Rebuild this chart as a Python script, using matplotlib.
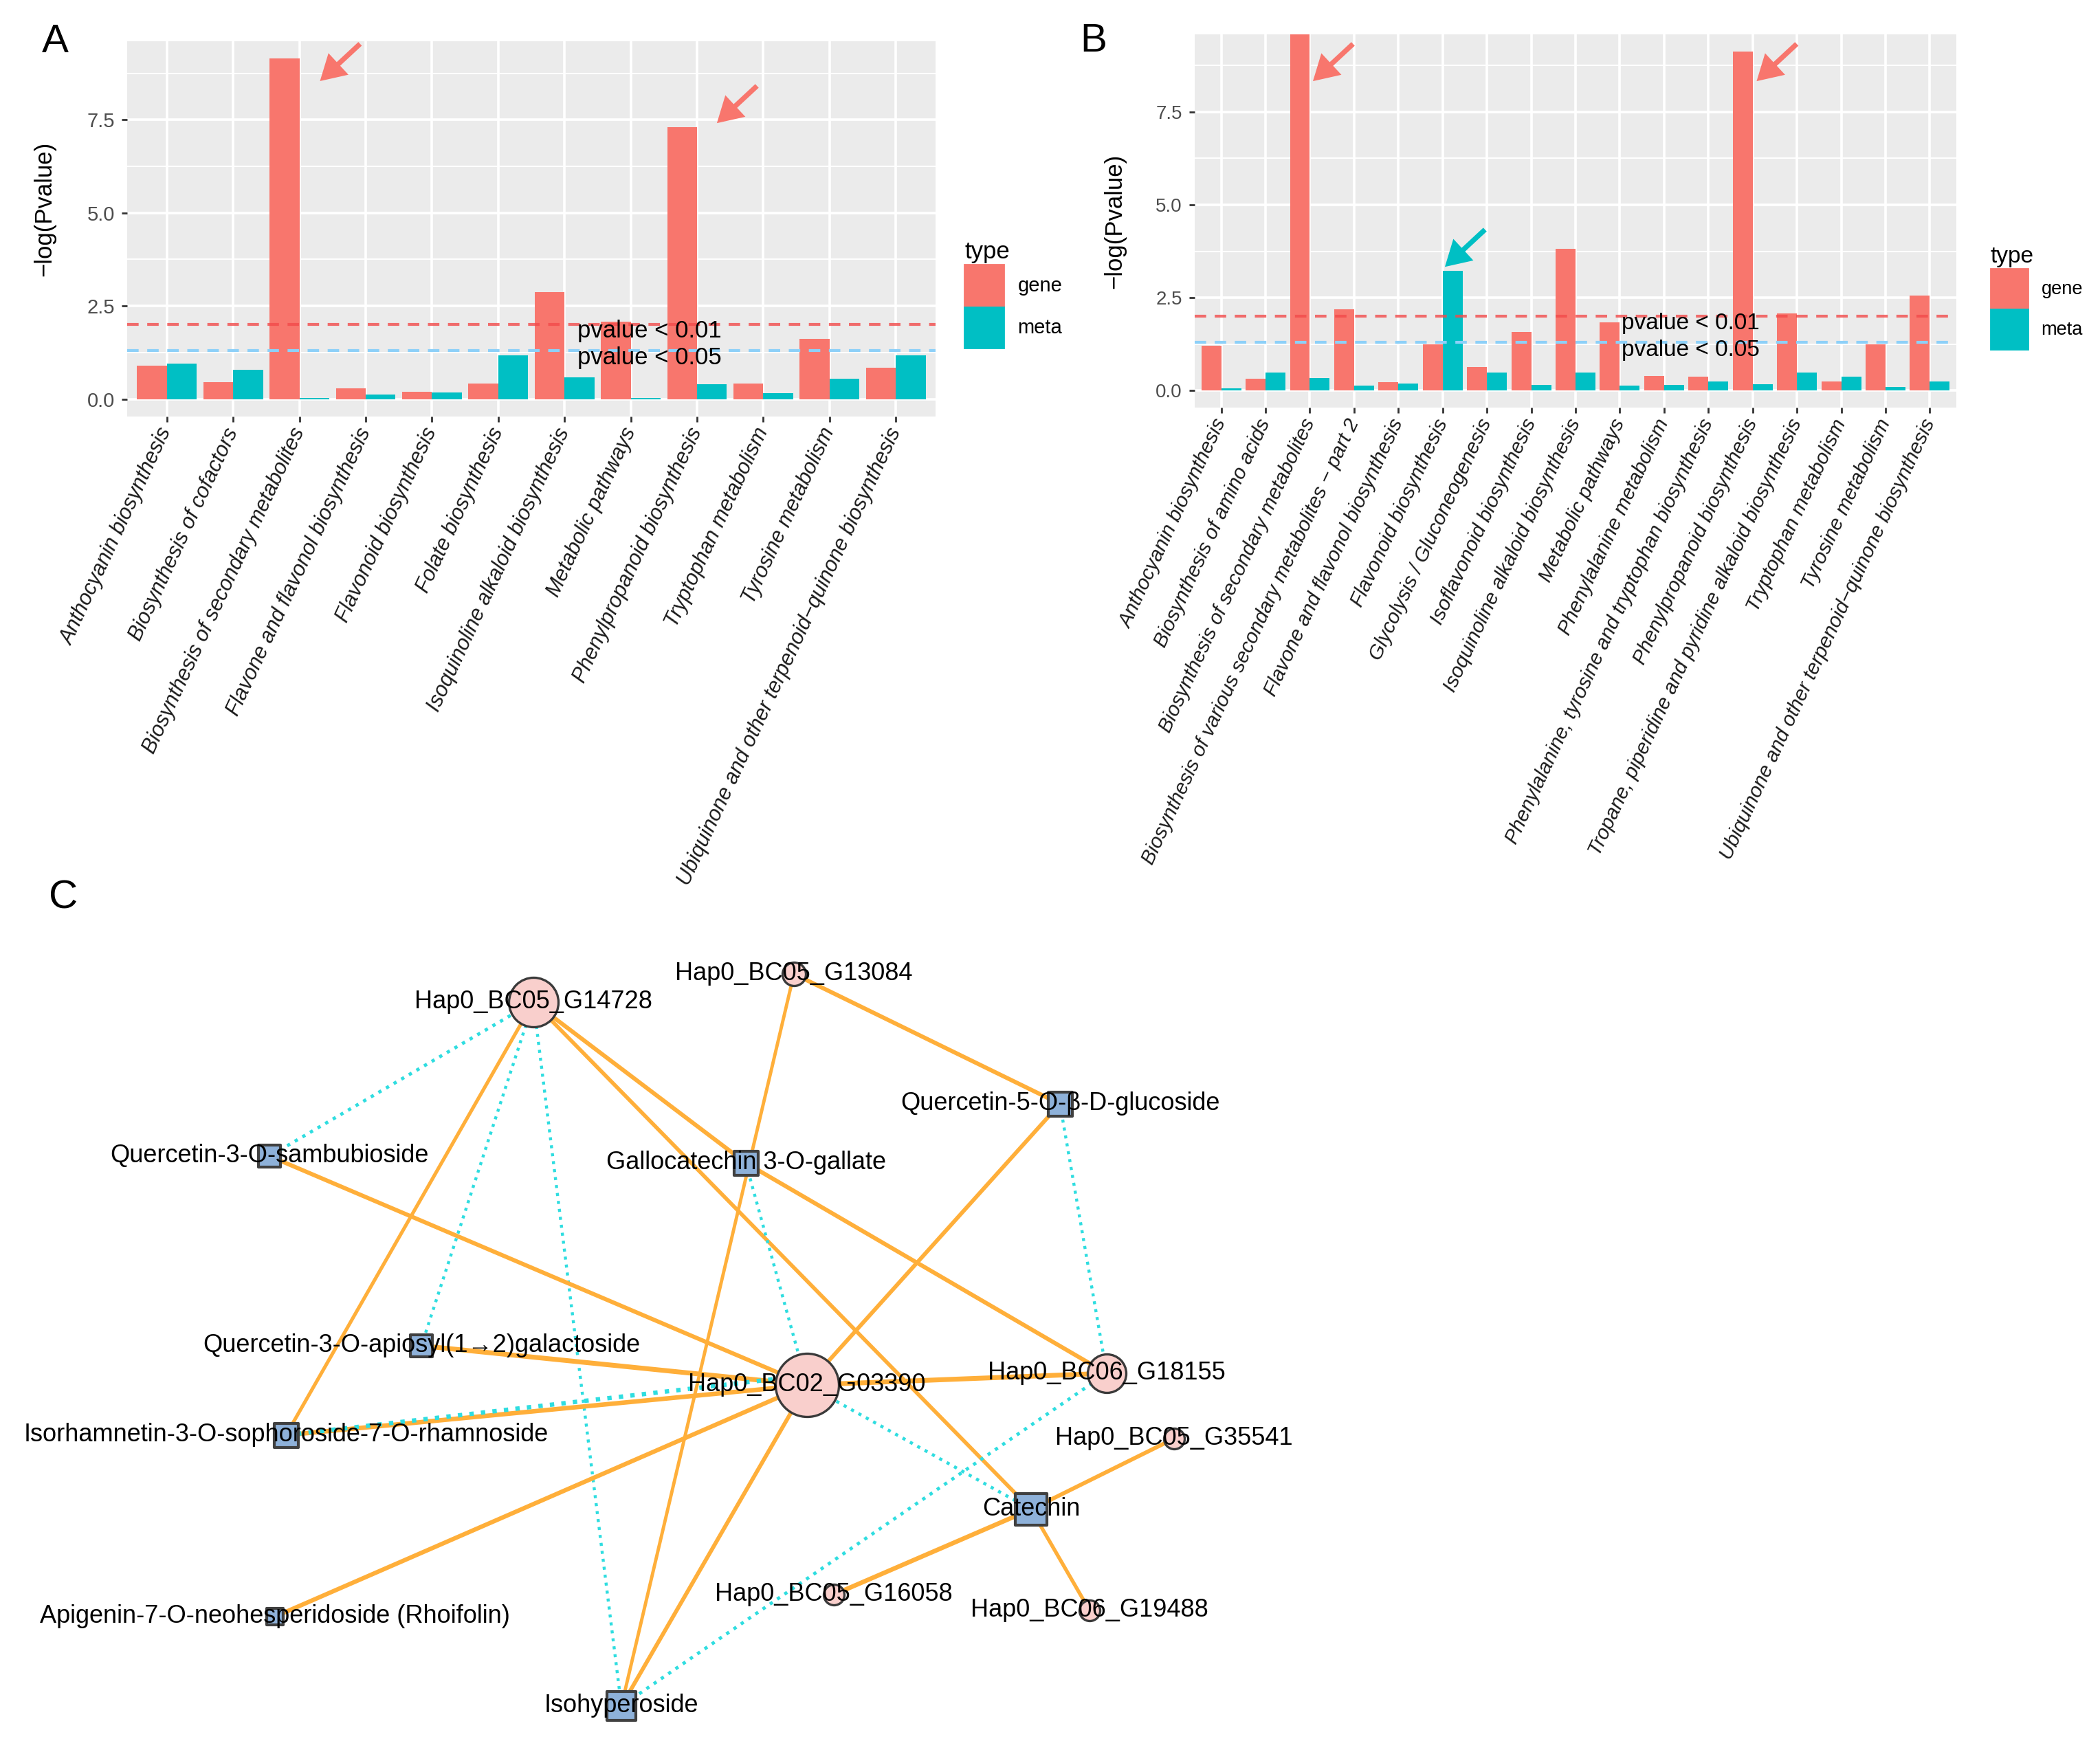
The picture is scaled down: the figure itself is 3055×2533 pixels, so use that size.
import numpy as np
import matplotlib.pyplot as plt
from matplotlib.patches import Patch
from matplotlib.ticker import FixedLocator

plt.rcParams['font.family'] = ['Liberation Sans', 'DejaVu Sans']

GENE = '#F8766D'
META = '#00BFC4'

# ---- panel A data ----
a_paths = ['Anthocyanin biosynthesis', 'Biosynthesis of cofactors',
           'Biosynthesis of secondary metabolites', 'Flavone and flavonol biosynthesis',
           'Flavonoid biosynthesis', 'Folate biosynthesis',
           'Isoquinoline alkaloid biosynthesis', 'Metabolic pathways',
           'Phenylpropanoid biosynthesis', 'Tryptophan metabolism',
           'Tyrosine metabolism', 'Ubiquinone and other terpenoid\u2212quinone biosynthesis']
a_gene = [0.90, 0.46, 9.15, 0.28, 0.19, 0.41, 2.87, 2.08, 7.30, 0.42, 1.62, 0.84]
a_meta = [0.95, 0.78, 0.02, 0.12, 0.18, 1.17, 0.58, 0.02, 0.39, 0.15, 0.55, 1.17]

# ---- panel B data ----
b_paths = ['Anthocyanin biosynthesis', 'Biosynthesis of amino acids',
           'Biosynthesis of secondary metabolites',
           'Biosynthesis of various secondary metabolites \u2212 part 2',
           'Flavone and flavonol biosynthesis', 'Flavonoid biosynthesis',
           'Glycolysis / Gluconeogenesis', 'Isoflavonoid biosynthesis',
           'Isoquinoline alkaloid biosynthesis', 'Metabolic pathways',
           'Phenylalanine metabolism', 'Phenylalanine, tyrosine and tryptophan biosynthesis',
           'Phenylpropanoid biosynthesis', 'Tropane, piperidine and pyridine alkaloid biosynthesis',
           'Tryptophan metabolism', 'Tyrosine metabolism',
           'Ubiquinone and other terpenoid\u2212quinone biosynthesis']
b_gene = [1.21, 0.32, 9.65, 2.19, 0.23, 1.24, 0.64, 1.58, 3.82, 1.83, 0.40, 0.38,
          9.13, 2.07, 0.25, 1.25, 2.55]
b_meta = [0.06, 0.48, 0.33, 0.13, 0.18, 3.23, 0.48, 0.15, 0.48, 0.13, 0.15, 0.25,
          0.17, 0.48, 0.38, 0.09, 0.25]

pvalues = [0.01, 0.05]

# arrows: (category index, series, dx, dy) head offset from the bar top
a_arrows = [(2, 'gene', 0.31, -0.61), (8, 'gene', 0.30, 0.11)]
b_arrows = [(2, 'gene', 0.07, -1.32), (12, 'gene', 0.09, -0.80), (5, 'meta', 0.05, 0.10)]

# ---- panel C network ----
nodes = ['Hap0_BC05_G14728', 'Hap0_BC05_G13084', 'Quercetin-5-O-\u03b2-D-glucoside',
         'Quercetin-3-O-sambubioside', 'Gallocatechin 3-O-gallate',
         'Quercetin-3-O-apiosyl(1\u21922)galactoside', 'Hap0_BC02_G03390',
         'Hap0_BC06_G18155', 'Isorhamnetin-3-O-sophoroside-7-O-rhamnoside',
         'Hap0_BC05_G35541', 'Catechin', 'Hap0_BC05_G16058', 'Hap0_BC06_G19488',
         'Apigenin-7-O-neohesperidoside (Rhoifolin)', 'Isohyperoside']
node_kind = ['gene', 'gene', 'meta', 'meta', 'meta', 'meta', 'gene', 'gene', 'meta',
             'gene', 'meta', 'gene', 'gene', 'meta', 'meta']
node_x = [776, 1155, 1542, 392, 1085, 613, 1174, 1610, 416, 1708, 1500, 1213, 1585, 400, 904]
node_y = [1458, 1417, 1606, 1682, 1692, 1958, 2015, 1998, 2088, 2093, 2196, 2320, 2343, 2352, 2482]

edge_src = ['Hap0_BC05_G14728'] * 6 + ['Hap0_BC05_G13084'] * 2 + \
           ['Quercetin-5-O-\u03b2-D-glucoside'] * 2 + ['Gallocatechin 3-O-gallate'] * 2 + \
           ['Quercetin-3-O-sambubioside', 'Quercetin-3-O-apiosyl(1\u21922)galactoside'] + \
           ['Hap0_BC02_G03390'] * 6 + ['Hap0_BC06_G18155'] + ['Catechin'] * 3
edge_dst = ['Quercetin-3-O-sambubioside', 'Isorhamnetin-3-O-sophoroside-7-O-rhamnoside',
            'Quercetin-3-O-apiosyl(1\u21922)galactoside', 'Isohyperoside',
            'Gallocatechin 3-O-gallate', 'Catechin',
            'Quercetin-5-O-\u03b2-D-glucoside', 'Isohyperoside',
            'Hap0_BC02_G03390', 'Hap0_BC06_G18155',
            'Hap0_BC02_G03390', 'Hap0_BC06_G18155',
            'Hap0_BC02_G03390', 'Hap0_BC02_G03390',
            'Hap0_BC06_G18155', 'Isorhamnetin-3-O-sophoroside-7-O-rhamnoside',
            'Isorhamnetin-3-O-sophoroside-7-O-rhamnoside',
            'Apigenin-7-O-neohesperidoside (Rhoifolin)', 'Isohyperoside', 'Catechin',
            'Isohyperoside',
            'Hap0_BC05_G35541', 'Hap0_BC05_G16058', 'Hap0_BC06_G19488']
edge_r = [-0.90, 0.89, -0.88, -0.88, 0.93, 0.91,
          0.93, 0.88,
          0.92, -0.88,
          -0.88, 0.93,
          0.93, 0.97,
          0.97, 0.95, -0.97, 0.94, 0.92, -0.89,
          -0.90,
          0.92, 0.95, 0.90]

fig = plt.figure(figsize=(15.275, 12.665), dpi=200)
W, H = 3055, 2533


def bar_panel(ax, names, gene, meta, ylim, xfont, yfont):
    x = np.arange(len(names))
    ax.set_facecolor('#EBEBEB')
    ax.bar(x - 0.225, gene, 0.45, color=GENE, zorder=2)
    ax.bar(x + 0.225, meta, 0.45, color=META, zorder=2)
    thr = -np.log10(pvalues)
    ax.axhline(thr[0], color='#F24B4B', alpha=0.8, lw=1.5, dashes=(4, 3), zorder=3)
    ax.axhline(thr[1], color='#8DD0F8', lw=1.5, dashes=(4, 3), zorder=3)
    ax.set_xlim(-0.6, len(names) - 0.4)
    ax.set_ylim(*ylim)
    ax.set_yticks([0, 2.5, 5, 7.5])
    ax.set_yticklabels(['0.0', '2.5', '5.0', '7.5'], fontsize=yfont, color='#4D4D4D')
    ax.yaxis.set_minor_locator(FixedLocator([1.25, 3.75, 6.25, 8.75]))
    ax.grid(which='major', color='white', lw=1.3)
    ax.grid(which='minor', axis='y', color='white', lw=0.7)
    ax.tick_params(which='minor', length=0)
    ax.tick_params(which='major', length=3, width=1.0, color='#333333')
    ax.set_axisbelow(True)
    for s in ax.spines.values():
        s.set_visible(False)
    ax.set_xticks(x)
    ax.set_xticklabels(names, rotation=65, ha='right', va='center',
                       rotation_mode='anchor', style='italic', fontsize=xfont, color='#1A1A1A')
    ax.set_ylabel('\u2212log(Pvalue)', fontsize=12.5)
    return x, thr


def arrows(ax, arrow_list, gene, meta):
    for idx, series, dx, dy in arrow_list:
        val = gene[idx] if series == 'gene' else meta[idx]
        col = GENE if series == 'gene' else META
        ax.annotate('', xy=(idx + dx, val + dy), xytext=(21, 19.5), textcoords='offset points',
                    arrowprops=dict(arrowstyle='simple,head_length=0.6,head_width=0.7,tail_width=0.12',
                                    mutation_scale=22, color=col, shrinkA=0, shrinkB=0,
                                    lw=0), zorder=4, annotation_clip=False)


# panel A
axA = fig.add_axes([185 / W, 1 - 606 / H, 1176 / W, 546 / H])
xa, thr = bar_panel(axA, a_paths, a_gene, a_meta, (-0.47, 9.61), 11.0, 10.5)
axA.yaxis.set_label_coords(-0.088, 0.553)
axA.text(6.2, 1.82, 'pvalue < 0.01', fontsize=12.5, va='center', zorder=5)
axA.text(6.2, 1.11, 'pvalue < 0.05', fontsize=12.5, va='center', zorder=5)
arrows(axA, a_arrows, a_gene, a_meta)
axA.legend([Patch(color=GENE), Patch(color=META)], ['gene', 'meta'], title='type',
           loc='upper left', bbox_to_anchor=(1403 / W, 1 - 350 / H), bbox_transform=fig.transFigure,
           frameon=False, fontsize=10.5, title_fontsize=12.5, handlelength=1.95, handleheight=2.75,
           labelspacing=0.08, handletextpad=0.7, borderpad=0, borderaxespad=0, alignment='left')

# panel B
axB = fig.add_axes([1738 / W, 1 - 593 / H, 1108 / W, 543 / H])
xb, _ = bar_panel(axB, b_paths, b_gene, b_meta, (-0.46, 9.59), 10.6, 10.0)
axB.yaxis.set_label_coords(-0.09, 0.50)
axB.text(9.04, 1.80, 'pvalue < 0.01', fontsize=12.0, va='center', zorder=5)
axB.text(9.04, 1.08, 'pvalue < 0.05', fontsize=12.0, va='center', zorder=5)
arrows(axB, b_arrows, b_gene, b_meta)
axB.legend([Patch(color=GENE), Patch(color=META)], ['gene', 'meta'], title='type',
           loc='upper left', bbox_to_anchor=(2896 / W, 1 - 358 / H), bbox_transform=fig.transFigure,
           frameon=False, fontsize=9.8, title_fontsize=12, handlelength=2.0, handleheight=2.85,
           labelspacing=0.08, handletextpad=0.7, borderpad=0, borderaxespad=0, alignment='left')

fig.text(80 / W, 1 - 61 / H, 'A', fontsize=21, ha='center', va='center')
fig.text(1591 / W, 1 - 60 / H, 'B', fontsize=21, ha='center', va='center')
fig.text(92 / W, 1 - 1306 / H, 'C', fontsize=21, ha='center', va='center')

# panel C: network
axC = fig.add_axes([0, 0, 1, (H - 1300) / H])
axC.set_xlim(0, W)
axC.set_ylim(H, 1300)
axC.axis('off')

pos = {n: (x, y) for n, x, y in zip(nodes, node_x, node_y)}
degree = {n: 0 for n in nodes}
for s, d in zip(edge_src, edge_dst):
    degree[s] += 1
    degree[d] += 1

seen = set()
for s, d, r in zip(edge_src, edge_dst, edge_r):
    (x0, y0), (x1, y1) = pos[s], pos[d]
    key = frozenset((s, d))
    if key in seen:
        # parallel edge: shift the end on the hub node a little
        y0 -= 14
    seen.add(key)
    lw = np.interp(abs(r), [0.85, 1.0], [1.5, 2.8])
    if r > 0:
        axC.plot([x0, x1], [y0, y1], color='#FFAF3A', lw=lw, solid_capstyle='round', zorder=1)
    else:
        axC.plot([x0, x1], [y0, y1], color='#2FDDE0', lw=lw * 0.9, linestyle=':', zorder=1)

px2pt = 72 / 200
for n, k in zip(nodes, node_kind):
    x, y = pos[n]
    if k == 'gene':
        d = np.interp(degree[n], [1, 2, 4, 6, 10], [30, 34, 56, 72, 92]) * px2pt
        axC.scatter([x], [y], s=d ** 2, marker='o', facecolor='#F9CFCC', edgecolor='#3A3A3A',
                    linewidth=1.2, zorder=2)
    else:
        d = np.interp(degree[n], [1, 2, 3, 4, 5], [24, 32, 35, 42, 47]) * px2pt
        axC.scatter([x], [y], s=d ** 2, marker='s', facecolor='#8EB1D9', edgecolor='#404040',
                    linewidth=1.5, zorder=2)
    axC.text(x, y, n, fontsize=13, ha='center', va='center', zorder=3)

fig.savefig('out.png', dpi=200, facecolor='white')
